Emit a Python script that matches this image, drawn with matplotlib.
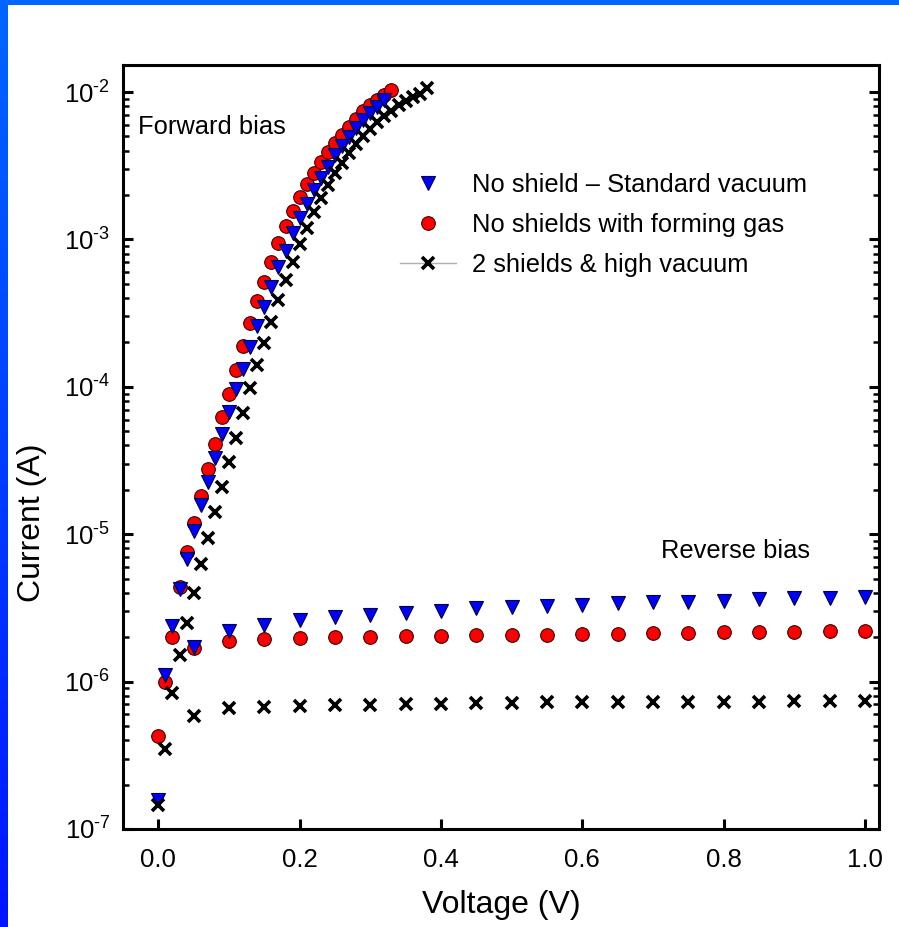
import numpy as np
import matplotlib
matplotlib.use("Agg")
import matplotlib.pyplot as plt
from matplotlib.lines import Line2D
from matplotlib.patches import Rectangle
from matplotlib.colors import LinearSegmentedColormap
from matplotlib.ticker import LogLocator, FixedLocator, FuncFormatter, NullFormatter

plt.rcParams['font.family'] = ['Liberation Sans', 'DejaVu Sans']
plt.rcParams['mathtext.fontset'] = 'custom'
plt.rcParams['mathtext.rm'] = 'Liberation Sans'
plt.rcParams['mathtext.it'] = 'Liberation Sans:italic'

# ---- forward-bias sweeps (0.01 V steps) ----
v_fwd_std = np.round(np.arange(0.0, 0.325, 0.01), 2)
i_fwd_std = [1.58e-7, 1.11e-6, 2.40e-6, 4.27e-6, 6.76e-6, 1.05e-5, 1.57e-5, 2.26e-5,
             3.31e-5, 4.76e-5, 6.76e-5, 9.59e-5, 1.33e-4, 1.86e-4, 2.57e-4, 3.48e-4,
             4.72e-4, 6.46e-4, 8.38e-4, 1.10e-3, 1.39e-3, 1.75e-3, 2.16e-3, 2.59e-3,
             3.11e-3, 3.73e-3, 4.33e-3, 4.98e-3, 5.66e-3, 6.46e-3, 7.16e-3, 7.94e-3,
             8.83e-3]

v_fwd_fg = np.round(np.arange(0.0, 0.335, 0.01), 2)
i_fwd_fg = [4.27e-7, 1.00e-6, 2.00e-6, 4.37e-6, 7.59e-6, 1.19e-5, 1.82e-5, 2.75e-5,
            4.12e-5, 6.21e-5, 8.99e-5, 1.31e-4, 1.89e-4, 2.72e-4, 3.80e-4, 5.15e-4,
            7.05e-4, 9.48e-4, 1.23e-3, 1.57e-3, 1.95e-3, 2.36e-3, 2.81e-3, 3.33e-3,
            3.89e-3, 4.49e-3, 5.11e-3, 5.82e-3, 6.61e-3, 7.41e-3, 8.17e-3, 8.83e-3,
            9.55e-3, 1.03e-2]

v_fwd_hv = np.round(np.arange(0.0, 0.385, 0.01), 2)
i_fwd_hv = [1.45e-7, 3.47e-7, 8.32e-7, 1.51e-6, 2.51e-6, 4.02e-6, 6.31e-6, 9.46e-6,
            1.41e-5, 2.10e-5, 3.11e-5, 4.53e-5, 6.65e-5, 9.77e-5, 1.40e-4, 1.97e-4,
            2.75e-4, 3.89e-4, 5.30e-4, 7.05e-4, 9.29e-4, 1.20e-3, 1.53e-3, 1.91e-3,
            2.34e-3, 2.82e-3, 3.31e-3, 3.85e-3, 4.42e-3, 5.01e-3, 5.62e-3, 6.24e-3,
            6.84e-3, 7.45e-3, 8.13e-3, 8.67e-3, 9.23e-3, 9.77e-3, 1.06e-2]

# ---- reverse-bias sweeps (0.05 V steps, magnitude) ----
v_rev = np.round(np.arange(0.05, 1.001, 0.05), 2)
i_rev_std = [1.73e-6, 2.21e-6, 2.42e-6, 2.62e-6, 2.76e-6, 2.83e-6, 2.94e-6, 3.03e-6,
             3.14e-6, 3.19e-6, 3.26e-6, 3.31e-6, 3.40e-6, 3.45e-6, 3.48e-6, 3.53e-6,
             3.61e-6, 3.67e-6, 3.71e-6, 3.77e-6]
i_rev_fg = [1.70e-6, 1.90e-6, 1.95e-6, 1.97e-6, 2.00e-6, 2.02e-6, 2.04e-6, 2.05e-6,
            2.07e-6, 2.07e-6, 2.07e-6, 2.10e-6, 2.11e-6, 2.13e-6, 2.15e-6, 2.16e-6,
            2.18e-6, 2.18e-6, 2.21e-6, 2.22e-6]
i_rev_hv = [5.85e-7, 6.59e-7, 6.76e-7, 6.84e-7, 6.93e-7, 6.93e-7, 7.02e-7, 7.05e-7,
            7.11e-7, 7.19e-7, 7.23e-7, 7.23e-7, 7.23e-7, 7.31e-7, 7.31e-7, 7.31e-7,
            7.31e-7, 7.38e-7, 7.38e-7, 7.43e-7]

labels = ["No shield \u2013 Standard vacuum", "No shields with forming gas",
          "2 shields & high vacuum"]
x_ticks = [0.0, 0.2, 0.4, 0.6, 0.8, 1.0]
y_decades = [1e-7, 1e-6, 1e-5, 1e-4, 1e-3, 1e-2]

W, H = 899, 927
fig = plt.figure(figsize=(W / 100, H / 100), dpi=100)
ax = fig.add_axes([123 / W, 1 - 829 / H, (879 - 123) / W, (829 - 65) / H])

red_kw = dict(linestyle='none', marker='o', ms=9.8, mfc='#ff0000', mec='#3a0000', mew=0.8)
blue_kw = dict(linestyle='none', marker='v', ms=10.4, mfc='#0000ff', mec='#00003a', mew=0.8)
black_kw = dict(linestyle='none', marker='x', ms=8.3, mec='black', mew=2.6)

ax.plot(v_fwd_fg, i_fwd_fg, **red_kw)
ax.plot(v_rev, i_rev_fg, **red_kw)
ax.plot(v_fwd_std, i_fwd_std, **blue_kw)
ax.plot(v_rev, i_rev_std, **blue_kw)
ax.plot(v_fwd_hv, i_fwd_hv, **black_kw)
ax.plot(v_rev, i_rev_hv, **black_kw)

ax.set_yscale('log')
ax.set_xlim(-0.05, 1.02)
ax.set_ylim(1e-7, 10 ** -1.8167)


def decade_label(v, pos):
    exp = abs(int(round(np.log10(v))))
    return "$\\mathregular{10^{\u2010%d}}$" % exp


ax.xaxis.set_major_locator(FixedLocator(x_ticks))
ax.xaxis.set_major_formatter(FuncFormatter(lambda v, p: f"{v:.1f}"))
ax.yaxis.set_major_locator(FixedLocator(y_decades))
ax.yaxis.set_major_formatter(FuncFormatter(decade_label))
ax.yaxis.set_minor_locator(LogLocator(base=10, subs=np.arange(2, 10), numticks=20))
ax.yaxis.set_minor_formatter(NullFormatter())

for s in ax.spines.values():
    s.set_linewidth(2.2)
ax.tick_params(axis='both', which='major', direction='in', length=7.5, width=2.2,
               labelsize=18.5, pad=9)
ax.tick_params(axis='y', which='both', right=True, left=True)
ax.tick_params(axis='y', which='minor', direction='in', length=4.2, width=1.8)
ax.tick_params(axis='x', top=False, bottom=True, pad=14)

ax.set_xlabel("Voltage (V)", fontsize=23, labelpad=13)
ax.set_ylabel("Current (A)", fontsize=23)
ax.yaxis.set_label_coords(47 / W, 1 - 523 / H, transform=fig.transFigure)

fig.text(138 / W, 1 - 127 / H, "Forward bias", fontsize=18.4, va='center', ha='left')
fig.text(661 / W, 1 - 551 / H, "Reverse bias", fontsize=18.4, va='center', ha='left')

handles = [
    Line2D([], [], **blue_kw),
    Line2D([], [], **red_kw),
    Line2D([], [], linestyle='-', color='#b0b0b0', lw=1.0, marker='x', ms=8.3,
           mec='black', mew=2.6),
]
ax.legend(handles, labels, loc='upper left', bbox_to_anchor=(400 / W, 1 - 173 / H),
          bbox_transform=fig.transFigure, frameon=False, fontsize=18.4,
          handlelength=2.2, handletextpad=0.6, labelspacing=0.63,
          borderpad=0, borderaxespad=0)

# blue frame along the top and left edges
fig.add_artist(Rectangle((0, 1 - 5 / H), 1, 5 / H, transform=fig.transFigure,
                         color='#0066ff', lw=0))
gax = fig.add_axes([0, 0, 8 / W, 1])
grad = np.linspace(0, 1, 256)[:, None]
cm = LinearSegmentedColormap.from_list('edge', ['#0066ff', '#0014ff'])
gax.imshow(grad, aspect='auto', cmap=cm, extent=(0, 1, 0, 1), origin='upper')
gax.set_axis_off()

fig.savefig("out.png", dpi=100)
